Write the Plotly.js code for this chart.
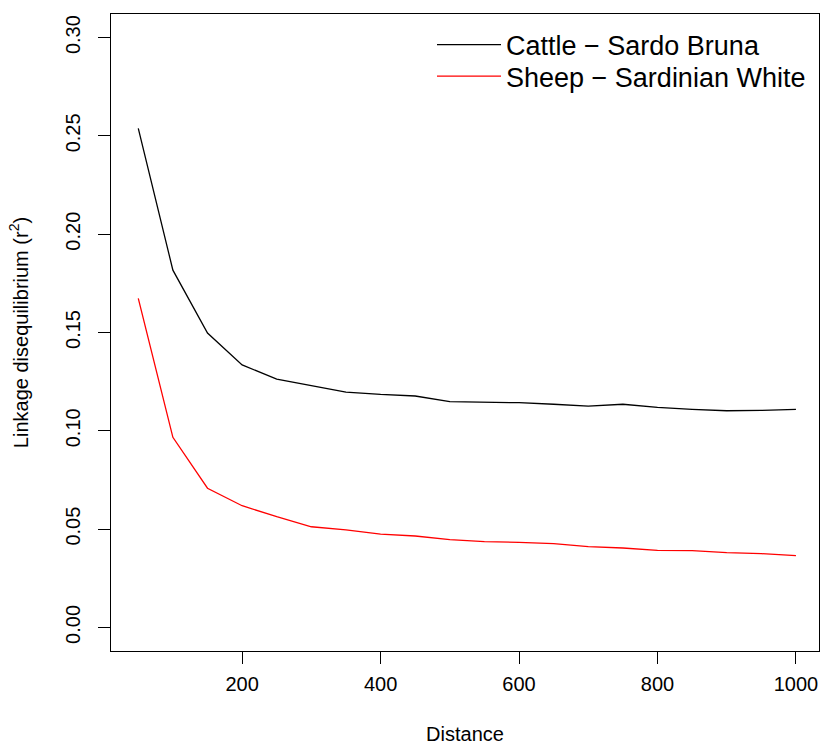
<!DOCTYPE html>
<html>
<head>
<meta charset="utf-8">
<script src="https://cdn.plot.ly/plotly-3.0.1.min.js"></script>
<style>html,body{margin:0;padding:0;background:#fff;}#chart{width:820px;height:745px;}</style>
</head>
<body>
<div id="chart"></div>
<script>
const distance = [50,100,150,200,250,300,350,400,450,500,550,600,650,700,750,800,850,900,950,1000];
const cattle = [0.2538,0.1817,0.1497,0.1335,0.1263,0.1229,0.1197,0.1185,0.1177,0.1148,0.1146,0.1143,0.1135,0.1126,0.1135,0.1119,0.1109,0.1102,0.1104,0.1109];
const sheep = [0.1674,0.0967,0.0708,0.0619,0.0563,0.0512,0.0496,0.0474,0.0465,0.0447,0.0436,0.0433,0.0426,0.0411,0.0404,0.0392,0.0391,0.0380,0.0375,0.0365];
const seriesNames = ["Cattle \u2212 Sardo Bruna", "Sheep \u2212 Sardinian White"];
const yTicks = [0, 0.05, 0.10, 0.15, 0.20, 0.25, 0.30];
const xTicks = [200, 400, 600, 800, 1000];

const font = "Liberation Sans, Arial, Helvetica, sans-serif";

const traces = [
  {x: distance, y: cattle, name: seriesNames[0], type: "scatter", mode: "lines",
   line: {color: "#000000", width: 1.3}, legend: "legend"},
  {x: distance, y: sheep, name: seriesNames[1], type: "scatter", mode: "lines",
   line: {color: "#ff0000", width: 1.3}, legend: "legend2"}
];

const legendBase = {
  xanchor: "left", yanchor: "middle",
  bgcolor: "rgba(0,0,0,0)", borderwidth: 0,
  font: {family: font, size: 27, color: "#000000"},
  itemwidth: 64
};

const layout = {
  width: 820, height: 745,
  margin: {l: 111, r: 1, t: 14, b: 94, pad: 0},
  paper_bgcolor: "#ffffff", plot_bgcolor: "#ffffff",
  font: {family: font, size: 20, color: "#000000"},
  showlegend: true,
  legend: Object.assign({}, legendBase, {x: (432 - 111) / 708, y: (651 - 45) / 637}),
  legend2: Object.assign({}, legendBase, {x: (432 - 111) / 708, y: (651 - 76.5) / 637}),
  xaxis: {
    range: [10.6, 1033.3], showgrid: false, zeroline: false,
    showline: true, mirror: true, linecolor: "#000000", linewidth: 1,
    ticks: "outside", ticklen: 12, tickwidth: 1, tickcolor: "#000000",
    tickvals: xTicks, ticktext: xTicks.map(String),
    tickfont: {family: font, size: 20, color: "#000000"},
    ticklabelstandoff: 3,
    title: {text: "Distance", font: {family: font, size: 20, color: "#000000"}, standoff: 41},
    automargin: false
  },
  yaxis: {
    range: [-0.012, 0.312], showgrid: false, zeroline: false,
    showline: true, mirror: true, linecolor: "#000000", linewidth: 1,
    ticks: "outside", ticklen: 12, tickwidth: 1, tickcolor: "#000000",
    tickvals: yTicks, ticktext: yTicks.map(v => v.toFixed(2)), tickangle: -90,
    tickfont: {family: font, size: 20, color: "#000000"},
    ticklabelstandoff: 10,
    title: {text: "Linkage disequilibrium (r<sup>2</sup>)", font: {family: font, size: 20, color: "#000000"}, standoff: 28},
    automargin: false
  }
};

Plotly.newPlot("chart", traces, layout, {displayModeBar: false, staticPlot: true});
</script>
</body>
</html>
